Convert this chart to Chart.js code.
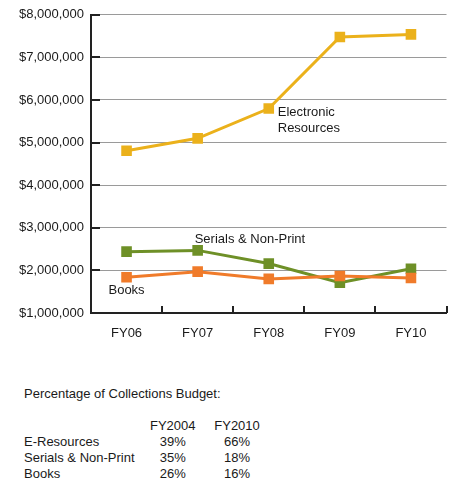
<!DOCTYPE html>
<html>
<head>
<meta charset="utf-8">
<script src="https://cdn.jsdelivr.net/npm/chart.js@4.4.1/dist/chart.umd.min.js"></script>
<style>
  html, body { margin: 0; padding: 0; background: #fff; }
  body { width: 454px; height: 480px; position: relative; overflow: hidden; font-family: "Liberation Sans", Arial, sans-serif; color: #1a1a1a; }
  #wrap { position: absolute; left: 0; top: 0; width: 454px; height: 345px; }
  #title { position: absolute; left: 24px; top: 386px; font-size: 13px; line-height: 16px; }
  #tbl { position: absolute; left: 24px; top: 418px; border-collapse: collapse; font-size: 13px; line-height: 16px; }
  #tbl td { padding: 0; white-space: nowrap; }
  #tbl td.v { text-align: center; }
</style>
</head>
<body>
<div id="wrap"><canvas id="c"></canvas></div>
<div id="title">Percentage of Collections Budget:</div>
<table id="tbl"><colgroup><col style="width:126px"><col style="width:44px"><col style="width:83px"></colgroup><tbody></tbody></table>
<script>
// ---- Data ----
const categories = ["FY06", "FY07", "FY08", "FY09", "FY10"];
const electronic = [4810000, 5100000, 5800000, 7480000, 7540000];
const serials    = [2440000, 2470000, 2160000, 1710000, 2040000];
const books      = [1840000, 1970000, 1800000, 1870000, 1820000];
const seriesNames = ["Electronic Resources", "Serials & Non-Print", "Books"];

const tableColumns = ["FY2004", "FY2010"];
const tableRows = ["E-Resources", "Serials & Non-Print", "Books"];
const pctFY2004 = ["39%", "35%", "26%"];
const pctFY2010 = ["66%", "18%", "16%"];

// ---- Table ----
const tb = document.querySelector('#tbl tbody');
function addRow(cells) {
  const tr = document.createElement('tr');
  cells.forEach((t, i) => {
    const td = document.createElement('td');
    td.textContent = t;
    if (i > 0) td.className = 'v';
    tr.appendChild(td);
  });
  tb.appendChild(tr);
}
addRow(["", tableColumns[0], tableColumns[1]]);
tableRows.forEach((r, i) => addRow([r, pctFY2004[i], pctFY2010[i]]));

// ---- Chart ----
const FONT = '"Liberation Sans", Arial, sans-serif';
const cGold = '#EBB11B', cGreen = '#6E9027', cOrange = '#F07B2A';

const decor = {
  id: 'decor',
  afterDraw(chart) {
    const ctx = chart.ctx, x = chart.scales.x, y = chart.scales.y, a = chart.chartArea;
    ctx.save();
    ctx.strokeStyle = '#222';
    ctx.lineWidth = 2;
    // inward y tick marks
    for (let v = y.min + 1000000; v <= y.max; v += 1000000) {
      const py = Math.round(y.getPixelForValue(v));
      ctx.beginPath(); ctx.moveTo(a.left, py); ctx.lineTo(a.left + 9, py); ctx.stroke();
    }
    // inward x tick marks at category boundaries
    const step = x.getPixelForValue(1) - x.getPixelForValue(0);
    for (let i = 0; i < categories.length; i++) {
      const px = Math.round(x.getPixelForValue(i) + step / 2);
      ctx.beginPath(); ctx.moveTo(px, a.bottom); ctx.lineTo(px, a.bottom - 7); ctx.stroke();
    }
    // series annotations
    ctx.fillStyle = '#1a1a1a';
    ctx.font = '13px ' + FONT;
    ctx.textBaseline = 'alphabetic';
    ctx.textAlign = 'left';
    let px = x.getPixelForValue(2), py = y.getPixelForValue(electronic[2]);
    ctx.fillText("Electronic", px + 9, py + 7);
    ctx.fillText("Resources", px + 9, py + 23);
    px = x.getPixelForValue(1); py = y.getPixelForValue(serials[1]);
    ctx.fillText(seriesNames[1], px - 3, py - 7);
    px = x.getPixelForValue(0); py = y.getPixelForValue(books[0]);
    ctx.textAlign = 'center';
    ctx.fillText(seriesNames[2], px, py + 17);
    ctx.restore();
  }
};

function ds(label, data, color) {
  return {
    label, data,
    borderColor: color, backgroundColor: color,
    borderWidth: 3,
    pointStyle: 'rect', pointRadius: 7.5, pointBorderWidth: 0,
    pointBackgroundColor: color, tension: 0
  };
}

new Chart(document.getElementById('c'), {
  type: 'line',
  data: {
    labels: categories,
    datasets: [
      ds(seriesNames[2], books, cOrange),
      ds(seriesNames[1], serials, cGreen),
      ds(seriesNames[0], electronic, cGold)
    ]
  },
  plugins: [decor],
  options: {
    responsive: true,
    maintainAspectRatio: false,
    animation: false,
    devicePixelRatio: 1,
    layout: { padding: { top: 11, right: 1, left: 0, bottom: 0 } },
    plugins: { legend: { display: false }, tooltip: { enabled: false } },
    scales: {
      x: {
        type: 'category',
        offset: true,
        grid: { display: false, drawTicks: false },
        border: { display: true, color: '#222', width: 2 },
        ticks: { color: '#1a1a1a', font: { family: FONT, size: 13 }, padding: 13, maxRotation: 0 },
        afterFit(s) { s.height = 32; }
      },
      y: {
        min: 1000000, max: 8000000,
        grid: { color: '#9a9a9a', lineWidth: 1, drawTicks: false },
        border: { display: true, color: '#222', width: 2 },
        ticks: {
          stepSize: 1000000, padding: 7, color: '#1a1a1a',
          font: { family: FONT, size: 13 },
          callback: v => '$' + Number(v).toLocaleString('en-US')
        },
        afterFit(s) { s.width = 91; }
      }
    }
  }
});
</script>
</body>
</html>
